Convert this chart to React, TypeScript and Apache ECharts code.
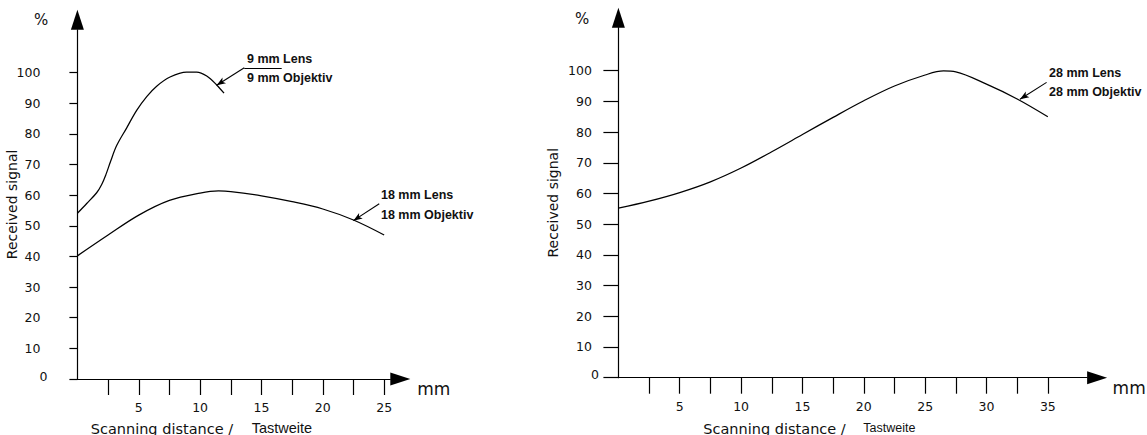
import React, { useEffect, useRef } from 'react';
import * as echarts from 'echarts';

// ---- tick values / labels ----
const yTicks = [0, 10, 20, 30, 40, 50, 60, 70, 80, 90, 100];
const xTicksLeft = [2.5, 5, 7.5, 10, 12.5, 15, 17.5, 20, 22.5, 25];
const xLabelsLeft = [5, 10, 15, 20, 25];
const xTicksRight = [2.5, 5, 7.5, 10, 12.5, 15, 17.5, 20, 22.5, 25, 27.5, 30, 32.5, 35];
const xLabelsRight = [5, 10, 15, 20, 25, 30, 35];

// ---- series values (scanning distance mm -> received signal %) ----
const lens9X = [0, 0.76, 1.57, 1.98, 2.33, 2.7, 3.2, 4.02, 4.83, 5.65, 6.46, 7.55, 8.9, 9.72, 10.54, 11.35, 11.95];
const lens9Y = [54.1, 57.3, 60.8, 63.5, 66.8, 71.0, 76.2, 82.0, 87.7, 92.2, 95.6, 98.6, 100.2, 100.2, 98.9, 96.0, 93.3];

const lens18X = [0, 2.5, 5, 7.5, 10, 11.5, 12.5, 15, 17.5, 20, 22.5, 25];
const lens18Y = [40.2, 47.0, 53.5, 58.3, 60.7, 61.4, 61.2, 59.8, 57.9, 55.5, 51.9, 47.0];

const lens28X = [0, 2.5, 5, 7.5, 10, 12.5, 15, 17.5, 20, 22.5, 25, 26.5, 27.5, 30, 32.5, 35];
const lens28Y = [55.2, 57.5, 60.3, 63.8, 68.3, 73.6, 79.2, 84.8, 90.2, 95.0, 98.6, 99.9, 99.6, 95.6, 90.8, 85.0];

// ---- texts ----
const lens9Labels = ['9 mm Lens', '9 mm Objektiv'];
const lens18Labels = ['18 mm Lens', '18 mm Objektiv'];
const lens28Labels = ['28 mm Lens', '28 mm Objektiv'];
const yName = 'Received signal';
const xUnit = 'mm';
const yUnit = '%';
const xTitleA = 'Scanning distance /';
const xTitleB = 'Tastweite';

const thinFont = "'DejaVu Sans', sans-serif";
const arialFont = "'Liberation Sans', Arial, sans-serif";
const ink = '#000';
const textInk = '#111';

function zip(xs: number[], ys: number[]) {
  return xs.map((x, i) => [x, ys[i]]);
}

function makeX(gridIndex: number, max: number, ticks: number[], labels: number[], nameGap: number) {
  return {
    type: 'value',
    gridIndex,
    min: 0,
    max,
    axisLine: {
      show: true,
      onZero: false,
      symbol: ['none', 'triangle'],
      symbolSize: [13, 20],
      symbolOffset: [0, 10],
      lineStyle: { color: ink, width: 1.2 },
    },
    axisTick: {
      show: true,
      customValues: ticks,
      length: 16,
      inside: false,
      lineStyle: { color: ink, width: 1.2 },
    },
    axisLabel: {
      show: true,
      customValues: labels,
      margin: 22,
      color: textInk,
      fontFamily: thinFont,
      fontSize: 12.5,
    },
    splitLine: { show: false },
    name: xUnit,
    nameLocation: 'end',
    nameGap,
    nameMoveOverlap: false,
    nameTextStyle: {
      color: textInk,
      fontFamily: thinFont,
      fontSize: 17,
      align: 'left',
      verticalAlign: 'top',
      lineHeight: 20,
    },
  };
}

function makeY(gridIndex: number, tickLen: number, margin: number, nameGap: number) {
  return {
    type: 'value',
    gridIndex,
    min: 0,
    max: 114,
    axisLine: {
      show: true,
      onZero: false,
      symbol: ['none', 'triangle'],
      symbolSize: [13, 20],
      symbolOffset: [0, 10],
      lineStyle: { color: ink, width: 1.2 },
    },
    axisTick: {
      show: true,
      customValues: yTicks,
      length: tickLen,
      inside: false,
      lineStyle: { color: ink, width: 1.2 },
    },
    axisLabel: {
      show: true,
      customValues: yTicks,
      margin,
      color: textInk,
      fontFamily: thinFont,
      fontSize: 12.5,
      formatter: (v: number) => (v === 0 ? '{z|0}' : String(v)),
      rich: {
        z: {
          width: 1,
          align: 'left',
          padding: [0, 0, 6, 0],
          color: textInk,
          fontFamily: thinFont,
          fontSize: 12.5,
        },
      },
    },
    splitLine: { show: false },
    name: yName,
    nameLocation: 'middle',
    nameRotate: 90,
    nameGap,
    nameMoveOverlap: false,
    nameTextStyle: {
      color: textInk,
      fontFamily: thinFont,
      fontSize: 14,
    },
  };
}

function annotation(
  curvePt: number[],
  elbow: number[],
  underlineEndX: number,
  textX: number,
  topY: number,
  bottomY: number,
  labels: string[]
) {
  return {
    markLine: {
      silent: true,
      animation: false,
      symbol: ['none', 'none'],
      label: { show: false },
      emphasis: { disabled: true },
      lineStyle: { color: ink, width: 1.1, type: 'solid' },
      data: [
        [
          { coord: curvePt, symbol: 'arrow', symbolSize: [5, 9] },
          { coord: elbow, symbol: 'none' },
        ],
        [{ coord: elbow }, { coord: [underlineEndX, elbow[1]] }],
      ],
    },
    markPoint: {
      silent: true,
      animation: false,
      symbol: 'circle',
      symbolSize: 0,
      label: {
        show: true,
        position: 'right',
        distance: 0,
        formatter: '{b}',
        color: textInk,
        fontFamily: arialFont,
        fontWeight: 'bold',
        fontSize: 12.5,
      },
      emphasis: { disabled: true },
      data: [
        { name: labels[0], coord: [textX, topY] },
        { name: labels[1], coord: [textX, bottomY] },
      ],
    },
  };
}

function curve(axisIndex: number, data: number[][], extra: any) {
  return {
    type: 'line',
    xAxisIndex: axisIndex,
    yAxisIndex: axisIndex,
    data,
    smooth: 0.35,
    symbol: 'none',
    showSymbol: false,
    clip: false,
    silent: true,
    lineStyle: { color: ink, width: 1.25 },
    ...extra,
  };
}

function txt(x: number, y: number, text: string, font: string) {
  return {
    type: 'text',
    x,
    y,
    style: { text, fill: textInk, font, align: 'left', verticalAlign: 'middle' },
  };
}

function buildOption() {
  return {
    animation: false,
    backgroundColor: '#fff',
    grid: [
      { left: 77.4, top: 29.8, width: 312.9, height: 349.2, containLabel: false, outerBoundsMode: 'none' },
      { left: 618.4, top: 27.7, width: 468.7, height: 350, containLabel: false, outerBoundsMode: 'none' },
    ],
    xAxis: [
      makeX(0, 25.5, xTicksLeft, xLabelsLeft, 27),
      makeX(1, 38.2, xTicksRight, xLabelsRight, 25.5),
    ],
    yAxis: [makeY(0, 8, 37, 58), makeY(1, 15, 26.5, 58)],
    graphic: [
      txt(34, 20, yUnit, `15px ${thinFont}`),
      txt(575, 18.5, yUnit, `15px ${thinFont}`),
      txt(90.7, 429, xTitleA, `14.5px ${thinFont}`),
      txt(251.7, 428, xTitleB, `14.5px ${arialFont}`),
      txt(703.3, 429, xTitleA, `14.5px ${thinFont}`),
      txt(863.3, 428, xTitleB, `12.5px ${arialFont}`),
    ],
    series: [
      curve(0, zip(lens9X, lens9Y), annotation([11.35, 95.9], [13.6, 101.6], 16.65, 13.82, 104.6, 98.3, lens9Labels)),
      curve(0, zip(lens18X, lens18Y), annotation([22.49, 51.7], [24.6, 57.2], 29.63, 24.74, 60.1, 53.5, lens18Labels)),
      curve(1, zip(lens28X, lens28Y), annotation([32.73, 90.7], [34.9, 96.2], 40.3, 35.1, 99.3, 93.2, lens28Labels)),
    ],
  };
}

export default function App() {
  const ref = useRef<HTMLDivElement>(null);
  useEffect(() => {
    document.body.style.margin = '0';
    document.body.style.overflow = 'hidden';
    const chart = echarts.init(ref.current as HTMLDivElement, undefined, { renderer: 'svg' });
    chart.setOption(buildOption() as any);
    return () => {
      chart.dispose();
    };
  }, []);
  return <div ref={ref} style={{ width: 1147, height: 435 }} />;
}
